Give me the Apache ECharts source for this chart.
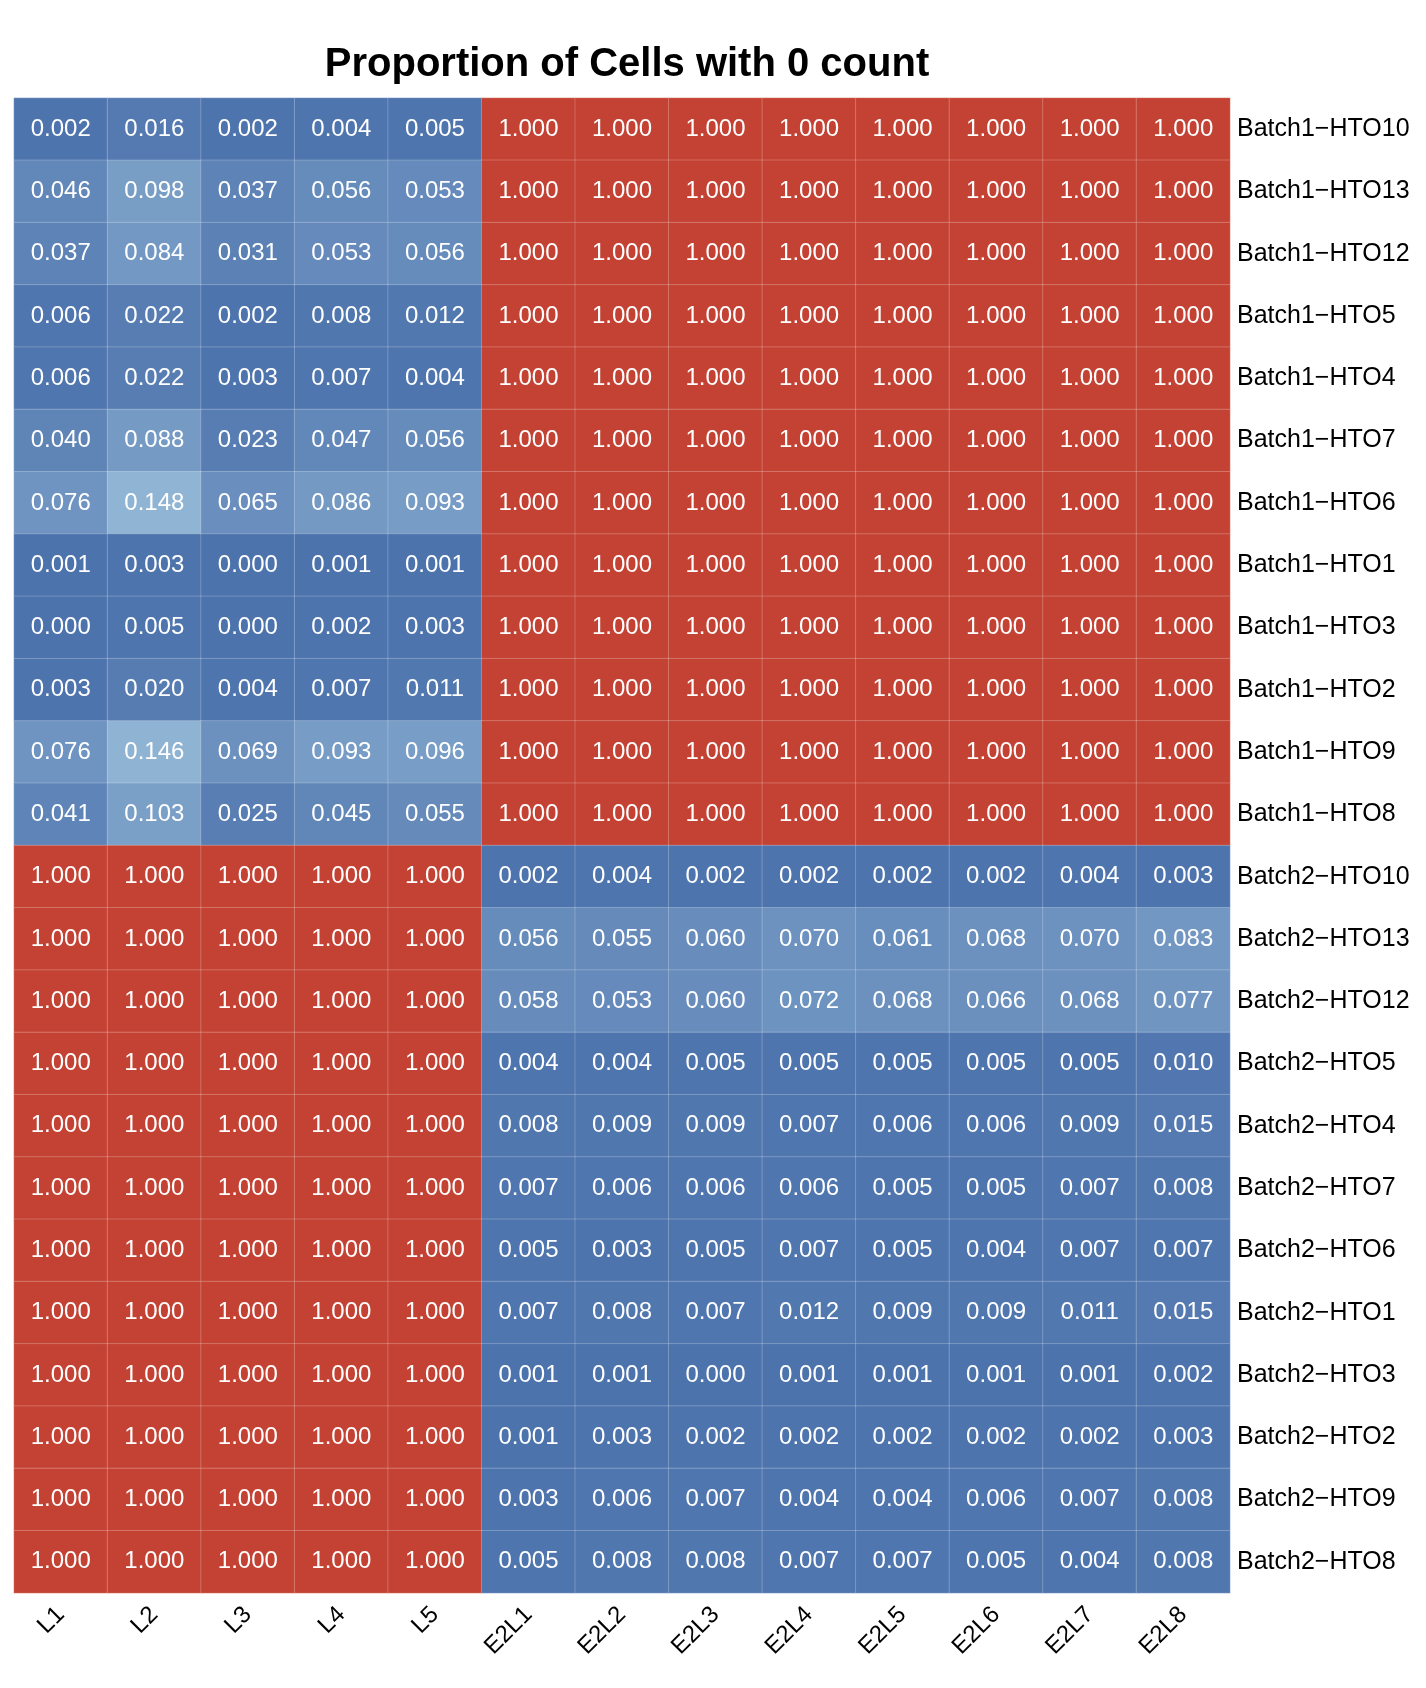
<!DOCTYPE html>
<html>
<head>
<meta charset="utf-8">
<script src="https://cdn.jsdelivr.net/npm/echarts@6/dist/echarts.min.js"></script>
<style>
html,body{margin:0;padding:0;background:#fff;}
#chart{width:1426px;height:1688px;}
</style>
</head>
<body>
<div id="chart"></div>
<script>
const chartTitle = 'Proportion of Cells with 0 count';
const columns = ['L1','L2','L3','L4','L5','E2L1','E2L2','E2L3','E2L4','E2L5','E2L6','E2L7','E2L8'];
const rowLabels = [
  'Batch1\u2212HTO10','Batch1\u2212HTO13','Batch1\u2212HTO12','Batch1\u2212HTO5','Batch1\u2212HTO4','Batch1\u2212HTO7',
  'Batch1\u2212HTO6','Batch1\u2212HTO1','Batch1\u2212HTO3','Batch1\u2212HTO2','Batch1\u2212HTO9','Batch1\u2212HTO8',
  'Batch2\u2212HTO10','Batch2\u2212HTO13','Batch2\u2212HTO12','Batch2\u2212HTO5','Batch2\u2212HTO4','Batch2\u2212HTO7',
  'Batch2\u2212HTO6','Batch2\u2212HTO1','Batch2\u2212HTO3','Batch2\u2212HTO2','Batch2\u2212HTO9','Batch2\u2212HTO8'
];
// Batch1 rows: values for L1..L5 (E2L1..E2L8 are all 1.000)
const batch1LValues = [
  [0.002,0.016,0.002,0.004,0.005],
  [0.046,0.098,0.037,0.056,0.053],
  [0.037,0.084,0.031,0.053,0.056],
  [0.006,0.022,0.002,0.008,0.012],
  [0.006,0.022,0.003,0.007,0.004],
  [0.040,0.088,0.023,0.047,0.056],
  [0.076,0.148,0.065,0.086,0.093],
  [0.001,0.003,0.000,0.001,0.001],
  [0.000,0.005,0.000,0.002,0.003],
  [0.003,0.020,0.004,0.007,0.011],
  [0.076,0.146,0.069,0.093,0.096],
  [0.041,0.103,0.025,0.045,0.055]
];
const batch1E2Values = [1.000,1.000,1.000,1.000,1.000,1.000,1.000,1.000];
// Batch2 rows: values for E2L1..E2L8 (L1..L5 are all 1.000)
const batch2LValues = [1.000,1.000,1.000,1.000,1.000];
const batch2E2Values = [
  [0.002,0.004,0.002,0.002,0.002,0.002,0.004,0.003],
  [0.056,0.055,0.060,0.070,0.061,0.068,0.070,0.083],
  [0.058,0.053,0.060,0.072,0.068,0.066,0.068,0.077],
  [0.004,0.004,0.005,0.005,0.005,0.005,0.005,0.010],
  [0.008,0.009,0.009,0.007,0.006,0.006,0.009,0.015],
  [0.007,0.006,0.006,0.006,0.005,0.005,0.007,0.008],
  [0.005,0.003,0.005,0.007,0.005,0.004,0.007,0.007],
  [0.007,0.008,0.007,0.012,0.009,0.009,0.011,0.015],
  [0.001,0.001,0.000,0.001,0.001,0.001,0.001,0.002],
  [0.001,0.003,0.002,0.002,0.002,0.002,0.002,0.003],
  [0.003,0.006,0.007,0.004,0.004,0.006,0.007,0.008],
  [0.005,0.008,0.008,0.007,0.007,0.005,0.004,0.008]
];

const cells = [];
batch1LValues.forEach((row, r) => {
  const full = row.concat(batch1E2Values);
  full.forEach((v, c) => cells.push([c, r, v]));
});
batch2E2Values.forEach((row, i) => {
  const r = batch1LValues.length + i;
  const full = batch2LValues.concat(row);
  full.forEach((v, c) => cells.push([c, r, v]));
});

const FONT = '"Liberation Sans", Arial, Helvetica, sans-serif';
const chart = echarts.init(document.getElementById('chart'), null, {renderer: 'canvas'});
chart.setOption({
  backgroundColor: '#ffffff',
  animation: false,
  title: {
    text: chartTitle,
    left: 622,
    textAlign: 'center',
    top: 40,
    textStyle: {fontFamily: FONT, fontSize: 40, fontWeight: 'bold', color: '#000'}
  },
  grid: {left: 14, right: 196, top: 98, bottom: 95, containLabel: false},
  xAxis: {
    type: 'category',
    data: columns,
    position: 'bottom',
    axisLine: {show: false},
    axisTick: {show: false},
    splitLine: {show: false},
    axisLabel: {rotate: 45, margin: 18, fontSize: 24, color: '#000', fontFamily: FONT, interval: 0}
  },
  yAxis: {
    type: 'category',
    data: rowLabels,
    inverse: true,
    position: 'right',
    axisLine: {show: false},
    axisTick: {show: false},
    splitLine: {show: false},
    axisLabel: {margin: 7, fontSize: 25, color: '#000', fontFamily: FONT, interval: 0}
  },
  visualMap: {
    show: false,
    type: 'continuous',
    min: 0,
    max: 1,
    dimension: 2,
    inRange: {color: ['#4d73ad','#98bcd8','#e0eef5','#f7f7f7','#f4b89d','#de6a50','#c44233']}
  },
  series: [{
    type: 'heatmap',
    data: cells,
    itemStyle: {borderColor: 'rgba(255,255,255,0.22)', borderWidth: 1},
    label: {
      show: true,
      color: '#fff',
      fontSize: 24,
      fontFamily: FONT,
      formatter: p => p.value[2].toFixed(3)
    }
  }]
});
</script>
</body>
</html>
